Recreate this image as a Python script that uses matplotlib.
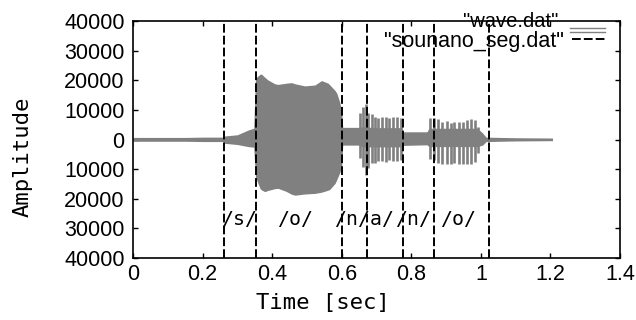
import matplotlib
matplotlib.use("Agg")
import matplotlib.pyplot as plt
from matplotlib.lines import Line2D

# ---- data ----
# waveform envelope (time [s], upper, lower)
env_t = [0.000, 0.150, 0.200, 0.258, 0.264, 0.300, 0.331, 0.347, 0.352, 0.365,
         0.369, 0.379, 0.388, 0.408, 0.417, 0.440, 0.456, 0.466, 0.494, 0.523,
         0.542, 0.561, 0.566, 0.581, 0.586, 0.595, 0.600, 0.603, 0.650, 0.660,
         0.700, 0.770, 0.776, 0.845, 0.851, 0.990, 1.005, 1.015, 1.100, 1.206]
env_hi = [700, 700, 800, 800, 1200, 1600, 3200, 3800, 20700, 22000,
          22100, 21000, 20100, 18800, 18600, 19000, 19200, 18800, 18100, 18400,
          19900, 19000, 18400, 16500, 15600, 12300, 9000, 4100, 4100, 4300,
          4000, 4000, 2600, 2600, 3800, 3800, 2200, 800, 600, 500]
env_lo = [-600, -600, -700, -700, -1300, -1700, -2400, -2600, -12600, -16500,
          -17000, -17600, -17200, -16600, -16500, -17500, -18500, -18800, -18400, -18200,
          -17800, -17100, -16800, -14800, -13500, -11000, -9000, -1900, -1900, -2500,
          -2500, -2500, -2000, -1800, -2400, -2400, -1900, -700, -500, -400]

# pitch pulses in the voiced /n a/ and /o/ parts (time, peak, trough)
pulse_t = [0.653, 0.662, 0.670, 0.677, 0.686, 0.695, 0.705, 0.716, 0.726, 0.737,
           0.748, 0.758, 0.769,
           0.854, 0.865, 0.878, 0.889, 0.902, 0.913, 0.924, 0.937, 0.950, 0.961,
           0.973, 0.983, 0.993]
pulse_hi = [9000, 11100, 11900, 9000, 8500, 7500, 7200, 7500, 7700, 7300,
            7500, 7600, 7400,
            7200, 7200, 6800, 6000, 6400, 5700, 6000, 6000, 6000, 6600,
            6800, 6600, 4300]
pulse_lo = [-6300, -9200, -12000, -9500, -8000, -8000, -7200, -7400, -7600, -7000,
            -7300, -7200, -7000,
            -6500, -7000, -7800, -8300, -8300, -8300, -8000, -8300, -8300, -8300,
            -8300, -7500, -4500]

# segment boundaries (sounano_seg.dat)
seg_t = [0.262, 0.354, 0.601, 0.672, 0.775, 0.865, 1.022]
seg_lo = -40000
seg_hi = 40000

# phoneme labels
phon_labels = ["/s/", "/o/", "/n/a/", "/n/", "/o/"]
phon_t = [0.305, 0.466, 0.663, 0.806, 0.935]
phon_y = -27000

x_ticks = [0, 0.2, 0.4, 0.6, 0.8, 1.0, 1.2, 1.4]
x_tick_labels = ["0", "0.2", "0.4", "0.6", "0.8", "1", "1.2", "1.4"]
y_ticks = [-40000, -30000, -20000, -10000, 0, 10000, 20000, 30000, 40000]
y_tick_labels = ["40000", "30000", "20000", "10000", "0",
                 "10000", "20000", "30000", "40000"]

# ---- figure ----
W, H = 636, 320
fig = plt.figure(figsize=(W / 100, H / 100), dpi=100)
ax = fig.add_axes([133 / W, 1 - 258 / H, (620 - 133) / W, (258 - 21) / H])

gray = "#808080"
ax.fill_between(env_t, env_lo, env_hi, color=gray, lw=0, zorder=2)
ax.vlines(pulse_t, pulse_lo, pulse_hi, color=gray, lw=1.9, zorder=2)

for t in seg_t:
    ax.plot([t, t], [seg_lo, seg_hi], color="black", lw=1.4,
            linestyle=(0, (4.5, 1.6)), zorder=3)

mono = "DejaVu Sans Mono"
for lab, t in zip(phon_labels, phon_t):
    ax.text(t, phon_y, lab, ha="center", va="center", fontsize=14.3,
            family=mono, color="black", zorder=4)

ax.set_xlim(0, 1.4)
ax.set_ylim(-40000, 40000)
ax.set_xticks(x_ticks)
ax.set_xticklabels(x_tick_labels)
ax.set_yticks(y_ticks)
ax.set_yticklabels(y_tick_labels)
ax.tick_params(direction="in", length=3.5, width=1.0, top=True, right=True,
               labelsize=15.5, pad=4)
ax.tick_params(axis="y", pad=6)
for lbl in ax.get_xticklabels() + ax.get_yticklabels():
    lbl.set_family("Liberation Sans")
for s in ax.spines.values():
    s.set_linewidth(1.2)

# axis titles
fig.text(322.5 / W, 1 - 303 / H, "Time [sec]", ha="center", va="center",
         fontsize=16, family=mono)
fig.text(23 / W, 1 - 156.5 / H, "Amplitude", ha="center", va="center",
         rotation=90, fontsize=16, family=mono)

# key (gnuplot style)
tr = ax.transAxes
ax.text((558 - 133) / 487, (258 - 27) / 237, '"wave.dat"', ha="right",
        va="baseline", fontsize=14.5, family="Liberation Sans", transform=tr,
        zorder=5)
ax.text((564 - 133) / 487, (258 - 47) / 237, '"sounano_seg.dat"', ha="right",
        va="baseline", fontsize=15.5, family="Liberation Sans", transform=tr,
        zorder=5)
for yy in (28, 31.5):
    ax.add_line(Line2D([(570 - 133) / 487, (605 - 133) / 487],
                       [(258 - yy) / 237] * 2, color=gray, lw=1.0,
                       transform=tr, zorder=5))
ax.add_line(Line2D([(572 - 133) / 487, (605 - 133) / 487],
                   [(258 - 39.3) / 237] * 2, color="black", lw=1.4,
                   linestyle=(0, (4.5, 1.6)), transform=tr, zorder=5))

fig.savefig("out.png", dpi=100)
